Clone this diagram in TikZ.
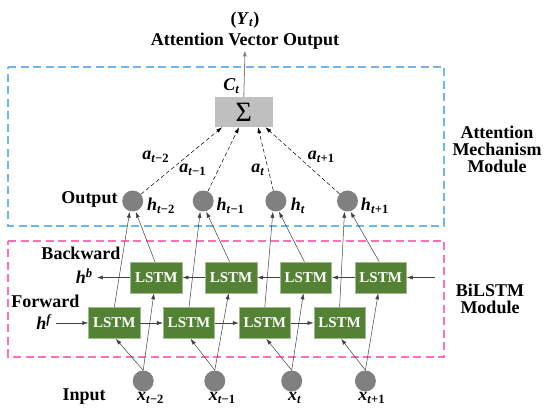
\documentclass[tikz,border=0pt]{standalone}
\usepackage{fontspec}
\setmainfont{Liberation Serif}
\usetikzlibrary{positioning,calc,arrows.meta}
\definecolor{lstmgreen}{HTML}{548235}
\definecolor{attblue}{HTML}{6FB5F0}
\definecolor{bipink}{HTML}{FF70B8}
\definecolor{unitgray}{HTML}{808080}
\newcommand{\tv}[2]{\textbf{\textit{#1}\textsubscript{\textit{t}#2}}}

\begin{document}
\begin{tikzpicture}[x=1pt, y=-1pt,
    >={Latex[length=6pt,width=4pt]},
    lstm/.style={rectangle, fill=lstmgreen, draw=lstmgreen!55!white, line width=0.6pt,
                 minimum width=51.5pt, minimum height=31pt, inner sep=0pt, text=white,
                 font=\fontsize{15}{17}\selectfont\bfseries},
    unit/.style={circle, fill=unitgray, minimum size=21pt, inner sep=0pt},
    sumbox/.style={rectangle, fill=gray!50, minimum width=58pt, minimum height=30pt,
                   inner sep=0pt, font=\fontsize{28}{29}\selectfont},
    modbox/.style={dash pattern=on 8pt off 4.5pt, line width=1.5pt},
    lbl/.style={font=\fontsize{18}{20}\selectfont\bfseries, inner sep=1pt, align=center},
    wire/.style={->, draw=black!75, line width=0.5pt},
    attw/.style={->, dash pattern=on 4pt off 2.5pt, line width=0.5pt},
  ]
  \useasboundingbox (0,0) rectangle (550,419);

  % module frames
  \draw[modbox, draw=attblue] (8,67) -- (444,67) -- (444,226) -- (8,226) -- cycle;
  \draw[modbox, draw=bipink]  (8,241) -- (444,241) -- (444,357) -- (8,357) -- cycle;

  % attention part
  \node[sumbox] (sig) at (243.8,112) {Σ};
  \node[lbl] (avo) at (245,41) {Attention Vector Output};
  \node[lbl] (yt)  at (245,20) {(\tv{Y}{})};
  \draw[->, draw=gray, line width=0.8pt] (sig.north) -- (avo.south);
  \node[lbl] (ct) at (231.5,86) {\tv{C}{}};

  % output units
  \node[unit] (o1) at (132.7,201) {};
  \node[unit] (o2) at (203.2,201) {};
  \node[unit] (o3) at (275.9,201) {};
  \node[unit] (o4) at (347.5,201) {};
  \node[lbl] (outl) at (89.5,199) {Output};
  \node[lbl] (h1) at (161,206) {\tv{h}{−2}};
  \node[lbl] (h2) at (230.6,206) {\tv{h}{−1}};
  \node[lbl] (h3) at (298,206) {\tv{h}{}};
  \node[lbl] (h4) at (374.9,206) {\tv{h}{+1}};

  % attention weights
  \draw[attw] (o1) -- ([xshift=-21.6pt]sig.south);
  \draw[attw] (o2) -- ([xshift=-4.8pt]sig.south);
  \draw[attw] (o3) -- ([xshift=14.2pt]sig.south);
  \draw[attw] (o4) -- ([xshift=21.6pt]sig.south);
  \node[lbl] (a1) at (155.8,157) {\tv{a}{−2}};
  \node[lbl] (a2) at (192.7,170) {\tv{a}{−1}};
  \node[lbl] (a3) at (258,170) {\tv{a}{}};
  \node[lbl] (a4) at (321.2,157) {\tv{a}{+1}};

  % BiLSTM layer
  \node[lstm] (b1) at (156.4,277.5) {LSTM};
  \node[lstm] (b2) at (231.1,277.5) {LSTM};
  \node[lstm] (b3) at (305.9,277.5) {LSTM};
  \node[lstm] (b4) at (380.7,277.5) {LSTM};
  \node[lstm] (f1) at (114.3,323) {LSTM};
  \node[lstm] (f2) at (189,323) {LSTM};
  \node[lstm] (f3) at (264.8,323) {LSTM};
  \node[lstm] (f4) at (339.6,323) {LSTM};

  \node[lbl] (bw) at (81,253) {Backward};
  \node[lbl] (fw) at (45.3,301) {Forward};
  \node[lbl] (hb) at (84.2,276) {\textbf{\textit{h}\textsuperscript{\textit{b}}}};
  \node[lbl] (hf) at (44.2,322) {\textbf{\textit{h}\textsuperscript{\textit{f}}}};
  \coordinate (hbend) at (96.9,277.5);
  \coordinate (hfbeg) at (55.8,323);
  \coordinate (bbeg) at (434.9,277.5);

  \draw[wire] (hfbeg) -- (f1);
  \draw[wire] (f1) -- (f2);
  \draw[wire] (f2) -- (f3);
  \draw[wire] (f3) -- (f4);
  \draw[wire] (bbeg) -- (b4);
  \draw[wire] (b4) -- (b3);
  \draw[wire] (b3) -- (b2);
  \draw[wire] (b2) -- (b1);
  \draw[wire] (b1) -- (hbend);

  % inputs
  \node[unit] (x1) at (143.2,381) {};
  \node[unit] (x2) at (214.8,381) {};
  \node[unit] (x3) at (291.7,381) {};
  \node[unit] (x4) at (365.4,381) {};
  \node[lbl] (inl) at (84.2,397) {Input};
  \node[lbl] (xl1) at (150.6,398) {\tv{x}{−2}};
  \node[lbl] (xl2) at (222.2,398) {\tv{x}{−1}};
  \node[lbl] (xl3) at (294.8,398) {\tv{x}{}};
  \node[lbl] (xl4) at (371.7,398) {\tv{x}{+1}};

  \foreach \i in {1,...,4}{
    \draw[wire] (x\i.north) -- ([xshift=1.5pt]f\i.south);
    \draw[wire] (x\i.north) -- ([xshift=-2.5pt]b\i.south);
    \draw[wire] (f\i.north) -- ([xshift=-3pt]o\i.south);
    \draw[wire] ([xshift=-1.5pt]b\i.north) -- ([xshift=3pt]o\i.south);
  }

  % module names
  \node[lbl] (attm) at (497,149) {Attention\\[-3pt]Mechanism\\[-3pt]Module};
  \node[lbl] (bim)  at (490,299) {BiLSTM\\[-3pt]Module};
\end{tikzpicture}
\end{document}
